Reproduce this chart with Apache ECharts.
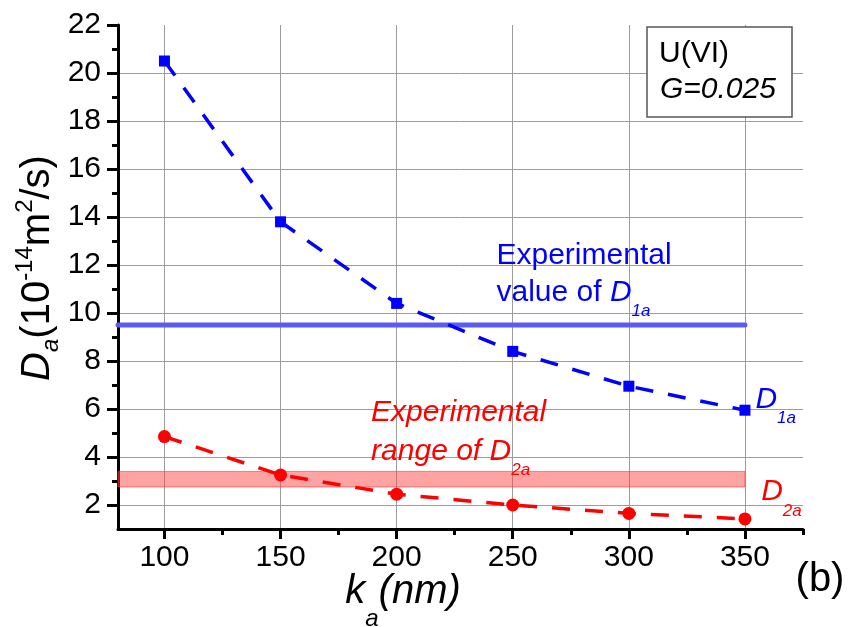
<!DOCTYPE html>
<html>
<head>
<meta charset="utf-8">
<script src="https://cdn.jsdelivr.net/npm/echarts@6/dist/echarts.min.js"></script>
<style>
  html, body { margin: 0; padding: 0; background: #ffffff; }
  #chart { width: 849px; height: 627px; }
</style>
</head>
<body>
<div id="chart"></div>
<script>
// Apparent diffusion coefficients vs. ka for U(VI), G = 0.025
const kA = [100, 150, 200, 250, 300, 350];
const d1a = [20.5, 13.8, 10.4, 8.4, 6.95, 5.95];
const d2a = [4.85, 3.25, 2.45, 2.0, 1.65, 1.42];
const d1aExperimental = 9.5;
const d2aRange = [2.75, 3.4];

const xMin = 80, xMax = 375;
const yMin = 1, yMax = 22;
const xMajorTicks = [100, 150, 200, 250, 300, 350];
const xMinorTicks = [125, 175, 225, 275, 325, 375];
const yMajorTicks = [2, 4, 6, 8, 10, 12, 14, 16, 18, 20, 22];
const yMinorTicks = [3, 5, 7, 9, 11, 13, 15, 17, 19, 21];

const FONT = '"Liberation Sans", Arial, sans-serif';
const BLUE = '#0000ff';
const RED = '#ff0000';
const GRID_GREY = '#9c9c9c';

const chart = echarts.init(document.getElementById('chart'), null, { renderer: 'canvas' });

const pairs = (xs, ys) => xs.map((x, i) => [x, ys[i]]);
const xLast = kA[kA.length - 1];

chart.setOption({
  animation: false,
  backgroundColor: '#ffffff',
  grid: { left: 118, right: 46, top: 25, bottom: 98, containLabel: false, outerBoundsMode: 'none' },
  xAxis: [
    {
      type: 'value', min: xMin, max: xMax, position: 'bottom',
      axisLine: { show: true, onZero: false, lineStyle: { color: '#000', width: 3 } },
      axisTick: { show: true, customValues: xMajorTicks, length: 10, lineStyle: { color: '#000', width: 3 } },
      axisLabel: { customValues: xMajorTicks, fontSize: 30, color: '#000', fontFamily: FONT, margin: 14 },
      splitLine: { show: true, showMinLine: true, showMaxLine: true, lineStyle: { color: GRID_GREY, width: 1 } }
    },
    {
      type: 'value', min: xMin, max: xMax, position: 'bottom',
      axisLine: { show: false },
      axisTick: { show: true, customValues: xMinorTicks, length: 6, lineStyle: { color: '#000', width: 3 } },
      axisLabel: { show: false },
      splitLine: { show: false }
    }
  ],
  yAxis: [
    {
      type: 'value', min: yMin, max: yMax, position: 'left',
      axisLine: { show: true, onZero: false, lineStyle: { color: '#000', width: 3 } },
      axisTick: { show: true, customValues: yMajorTicks, length: 11, lineStyle: { color: '#000', width: 3 } },
      axisLabel: { customValues: yMajorTicks, fontSize: 30, color: '#000', fontFamily: FONT, margin: 17 },
      splitLine: { show: true, showMinLine: true, showMaxLine: false, lineStyle: { color: GRID_GREY, width: 1 } }
    },
    {
      type: 'value', min: yMin, max: yMax, position: 'left',
      axisLine: { show: false },
      axisTick: { show: true, customValues: yMinorTicks, length: 6, lineStyle: { color: '#000', width: 3 } },
      axisLabel: { show: false },
      splitLine: { show: false }
    }
  ],
  series: [
    {
      // experimental range of D2a (shaded band)
      name: 'D2a range', type: 'line', z: 1, data: [], silent: true,
      markArea: {
        silent: true,
        itemStyle: { color: 'rgba(255, 70, 70, 0.5)', borderColor: 'rgba(235, 60, 60, 0.6)', borderWidth: 1 },
        data: [[{ coord: [xMin, d2aRange[0]] }, { coord: [xLast, d2aRange[1]] }]]
      }
    },
    {
      // experimental value of D1a
      name: 'D1a experimental', type: 'line', z: 2, silent: true,
      data: [[xMin, d1aExperimental], [xLast, d1aExperimental]],
      symbol: 'none',
      lineStyle: { color: '#5a5af5', width: 5, cap: 'round' }
    },
    {
      name: 'D1a', type: 'line', z: 3,
      data: pairs(kA, d1a),
      symbol: 'rect', symbolSize: 11,
      itemStyle: { color: BLUE },
      lineStyle: { color: BLUE, width: 3.5, type: [18, 15] }
    },
    {
      name: 'D2a', type: 'line', z: 3,
      data: pairs(kA, d2a),
      symbol: 'circle', symbolSize: 13,
      itemStyle: { color: RED },
      lineStyle: { color: RED, width: 3.5, type: [18, 15] }
    }
  ]
});

// rich-text styles for the annotations
function richSet(color, size, subSize, lineH, italicMain) {
  return {
    m: { fontSize: size, fontFamily: FONT, fill: color, lineHeight: lineH, verticalAlign: 'middle', fontStyle: italicMain ? 'italic' : 'normal' },
    i: { fontSize: size, fontFamily: FONT, fill: color, lineHeight: lineH, verticalAlign: 'middle', fontStyle: 'italic' },
    s: { fontSize: subSize, fontFamily: FONT, fill: color, lineHeight: subSize, verticalAlign: 'bottom', fontStyle: 'italic' }
  };
}

// annotation anchors in data units: [x, y] = left edge, vertical centre
const notes = [
  { at: [243, 12.4], text: '{m|Experimental}', color: BLUE, italic: false },
  { at: [243, 10.86], text: '{m|value of }{i|D}{s|1a}', color: BLUE, italic: false },
  { at: [189, 5.85], text: '{m|Experimental}', color: RED, italic: true },
  { at: [189, 4.22], text: '{m|range of }{i|D}{s|2a}', color: RED, italic: true },
  { at: [354.5, 6.39], text: '{i|D}{s|1a}', color: BLUE, italic: true },
  { at: [357, 2.55], text: '{i|D}{s|2a}', color: RED, italic: true }
];

const graphics = notes.map(n => {
  const p = chart.convertToPixel({ gridIndex: 0 }, n.at);
  return {
    type: 'text', x: p[0], y: p[1], z: 10,
    style: {
      text: n.text, textAlign: 'left', textVerticalAlign: 'middle',
      rich: richSet(n.color, 30, 17, 55, n.italic)
    }
  };
});

// info box
graphics.push({
  type: 'rect', z: 20,
  shape: { x: 647, y: 27, width: 145, height: 90 },
  style: { fill: '#ffffff', stroke: '#555555', lineWidth: 1.5 }
});
graphics.push({
  type: 'text', z: 21, x: 659, y: 54,
  style: { text: 'U(VI)', font: '30px ' + FONT, fill: '#000', textAlign: 'left', textVerticalAlign: 'middle' }
});
graphics.push({
  type: 'text', z: 21, x: 660, y: 90,
  style: { text: 'G=0.025', font: 'italic 30px ' + FONT, fill: '#000', textAlign: 'left', textVerticalAlign: 'middle' }
});

// axis titles
graphics.push({
  type: 'text', z: 21, x: 38, y: 268, rotation: Math.PI / 2,
  style: {
    text: '{i|D}{b|a}{m|(10}{t|-14}{m|m}{t|2}{m|/s)}',
    textAlign: 'center', textVerticalAlign: 'middle',
    rich: {
      m: { fontSize: 40, fontFamily: FONT, fill: '#000', lineHeight: 50, verticalAlign: 'middle' },
      i: { fontSize: 40, fontFamily: FONT, fill: '#000', lineHeight: 50, verticalAlign: 'middle', fontStyle: 'italic' },
      b: { fontSize: 24, fontFamily: FONT, fill: '#000', lineHeight: 29, verticalAlign: 'bottom', fontStyle: 'italic' },
      t: { fontSize: 24, fontFamily: FONT, fill: '#000', lineHeight: 24, verticalAlign: 'top' }
    }
  }
});
graphics.push({
  type: 'text', z: 21, x: 403, y: 592,
  style: {
    text: '{i|k}{b|a}{i|(nm)}',
    textAlign: 'center', textVerticalAlign: 'middle',
    rich: {
      i: { fontSize: 40, fontFamily: FONT, fill: '#000', lineHeight: 78, verticalAlign: 'middle', fontStyle: 'italic' },
      b: { fontSize: 24, fontFamily: FONT, fill: '#000', lineHeight: 24, verticalAlign: 'bottom', fontStyle: 'italic' }
    }
  }
});
graphics.push({
  type: 'text', z: 21, x: 820, y: 580,
  style: { text: '(b)', font: '40px ' + FONT, fill: '#000', textAlign: 'center', textVerticalAlign: 'middle' }
});

chart.setOption({ graphic: graphics });
</script>
</body>
</html>
